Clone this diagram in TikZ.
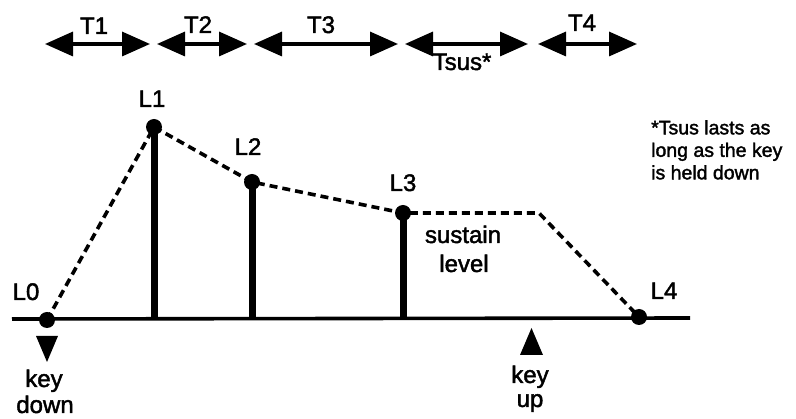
\documentclass[tikz,border=0pt]{standalone}
\usepackage{fontspec}
\setmainfont{Liberation Sans}[FakeBold=1.8]
\usetikzlibrary{arrows.meta}
\begin{document}
\begin{tikzpicture}[x=1pt,y=-1pt,
  lbl/.style={font=\fontsize{24}{27}\selectfont, anchor=base, inner sep=0pt},
  note/.style={font=\fontsize{19.5}{22.5}\selectfont, align=left, anchor=north west, inner sep=0pt},
  dot/.style={circle, fill=black, inner sep=0pt, minimum size=16pt},
  span/.style={line width=3.4pt, {Triangle[length=28pt,width=24pt]}-{Triangle[length=28pt,width=24pt]}},
  bar/.style={line width=7pt},
  env/.style={line width=3.6pt, dash pattern=on 8pt off 5pt},
  axis/.style={line width=3.6pt}]
\useasboundingbox (0,0) rectangle (796,419);

% time segments across the top
\coordinate (t1a) at (45,44);  \coordinate (t1b) at (150,44);
\coordinate (t2a) at (157,44); \coordinate (t2b) at (247,44);
\coordinate (t3a) at (254,44); \coordinate (t3b) at (398,44);
\coordinate (tsa) at (405,44); \coordinate (tsb) at (528,44);
\coordinate (t4a) at (538,44); \coordinate (t4b) at (637,44);
\draw[span] (t1a) -- (t1b);
\draw[span] (t2a) -- (t2b);
\draw[span] (t3a) -- (t3b);
\draw[span] (tsa) -- (tsb);
\draw[span] (t4a) -- (t4b);
\node[lbl] (lt1) at (94,34) {T1};
\node[lbl] (lt2) at (198,33) {T2};
\node[lbl] (lt3) at (321,33) {T3};
\node[lbl] (lts) at (462,70) {Tsus*};
\node[lbl] (lt4) at (582,31) {T4};

% envelope levels
\coordinate (ax0) at (12,319);
\coordinate (ax1) at (690,318);
\coordinate (b1) at (154,319);
\coordinate (b2) at (252,319);
\coordinate (b3) at (403,319);
\coordinate (plat) at (539,213);

\draw[axis] (ax0) -- (ax1);

\node[dot] (l0) at (47,320) {};
\node[dot] (l1) at (154,127) {};
\node[dot] (l2) at (252,182) {};
\node[dot] (l3) at (403,213) {};
\node[dot] (l4) at (639,317) {};

\draw[bar] (l1.center) -- (b1);
\draw[bar] (l2.center) -- (b2);
\draw[bar] (l3.center) -- (b3);
\draw[env] (l0.center) -- (l1.center) -- (l2.center) -- (l3.center) -- (plat) -- (l4.center);

\node[lbl] (n0) at (26,300) {L0};
\node[lbl] (n1) at (152,107) {L1};
\node[lbl] (n2) at (248,155) {L2};
\node[lbl] (n3) at (403,191) {L3};
\node[lbl] (n4) at (664,299) {L4};

\node[lbl] (sus) at (463,243) {sustain};
\node[lbl] (lev) at (464,272) {level};

% key events
\fill (36,336) -- (58,336) -- (47,362) -- cycle;
\node[lbl] (kd1) at (44,387) {key};
\node[lbl] (kd2) at (45,413) {down};
\fill (520,355) -- (543,355) -- (531.5,328) -- cycle;
\node[lbl] (ku1) at (530,383) {key};
\node[lbl] (ku2) at (530,407) {up};

\node[note] (nt) at (651,120) {*Tsus lasts as\\long as the key\\is held down};
\end{tikzpicture}
\end{document}
